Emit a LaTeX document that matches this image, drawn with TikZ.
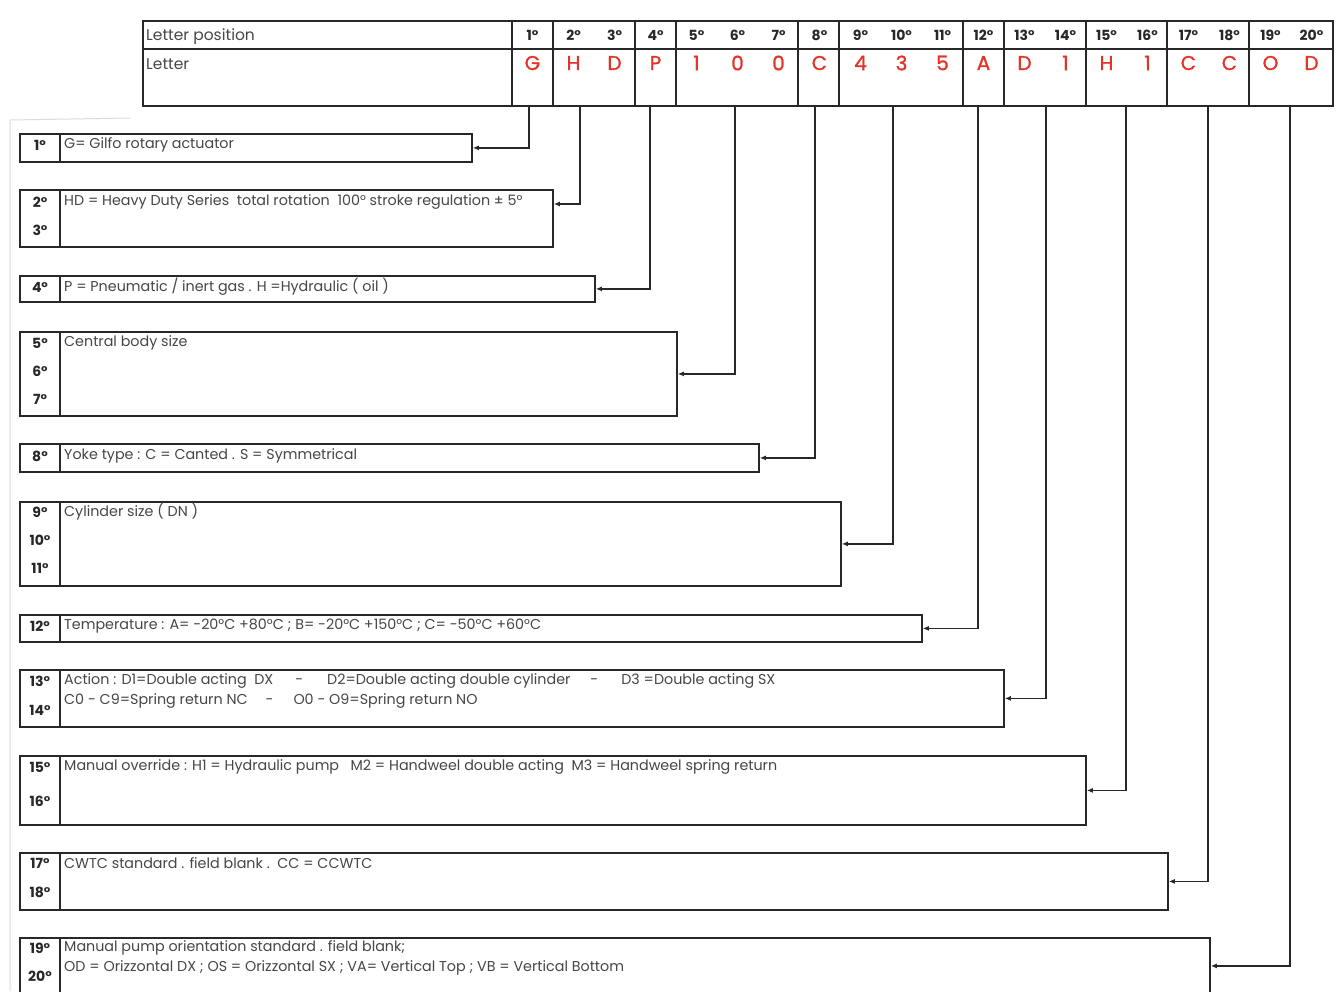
\documentclass[tikz,border=0pt]{standalone}
\usepackage{fontspec}
\setmainfont{Poppins}
\newfontfamily\letfont[FakeBold=1.2]{Poppins}
\usetikzlibrary{calc,arrows.meta}
\definecolor{ink}{RGB}{40,40,40}
\definecolor{txt}{RGB}{70,70,70}
\definecolor{letred}{RGB}{228,52,40}
\definecolor{faint}{RGB}{220,220,220}
\begin{document}
\begin{tikzpicture}[x=1pt,y=-1pt,
  box/.style={draw=ink, line width=1.8pt, anchor=north west, inner sep=0pt},
  sep/.style={draw=ink, line width=1.6pt},
  conn/.style={draw=ink, line width=1.5pt, -{Latex[length=6pt,width=5pt]}},
  num/.style={font=\fontsize{14}{15}\selectfont\bfseries, text=ink, inner sep=0pt},
  desc/.style={font=\fontsize{14.3}{15}\selectfont, text=txt, anchor=west, inner sep=0pt},
  hdesc/.style={font=\fontsize{15.5}{16}\selectfont, text=txt, anchor=west, inner sep=0pt},
  hnum/.style={font=\fontsize{14}{15}\selectfont\bfseries, text=ink, inner sep=0pt},
  let/.style={font=\letfont\fontsize{20}{22}\selectfont, text=letred, inner sep=0pt},
]
\clip (0,0) rectangle (1339,991);
\fill[white] (0,0) rectangle (1339,991);
% faint page border
\draw[faint, line width=1pt] (10,991) -- (10,120) -- (130,118);

% header table
\node[box, minimum width=1190pt, minimum height=85pt] (tab) at (142,20) {};
\draw[sep] (142,49) -- (1332,49);
\foreach \x in {512,553,635,676,798,839,963,1004,1086,1167,1249}
  \draw[sep] (\x,20) -- (\x,105);
\node[hdesc] (lp) at (146,37) {Letter position};
\node[hdesc] (ll) at (146,64) {Letter};
\foreach \i in {1,...,20}
  \node[hnum] (h\i) at ({532.5+41*(\i-1)},35) {\i°};
\foreach \l [count=\i] in {G,H,D,P,1,0,0,C,4,3,5,A,D,1,H,1,C,C,O,D}
  \node[let] (l\i) at ({532.5+41*(\i-1)},63) {\l};

% connector start points
\coordinate (p1) at (529,105);
\coordinate (p2) at (580,105);
\coordinate (p4) at (650,105);
\coordinate (p5) at (735,105);
\coordinate (p8) at (815,105);
\coordinate (p9) at (893,105);
\coordinate (p12) at (978,105);
\coordinate (p13) at (1046,105);
\coordinate (p15) at (1126,105);
\coordinate (p17) at (1208,105);
\coordinate (p19) at (1290,105);

% boxes
\node[box, minimum width=452pt, minimum height=28pt] (b1) at (19,133) {};
\node[box, minimum width=533pt, minimum height=57pt] (b2) at (19,189) {};
\node[box, minimum width=575pt, minimum height=26pt] (b4) at (19,275) {};
\node[box, minimum width=657pt, minimum height=84pt] (b5) at (19,331) {};
\node[box, minimum width=739pt, minimum height=28pt] (b8) at (19,443) {};
\node[box, minimum width=821pt, minimum height=84pt] (b9) at (19,501) {};
\node[box, minimum width=902pt, minimum height=27pt] (b12) at (19,614) {};
\node[box, minimum width=984pt, minimum height=57pt] (b13) at (19,669) {};
\node[box, minimum width=1066pt, minimum height=69pt] (b15) at (19,755) {};
\node[box, minimum width=1148pt, minimum height=57pt] (b17) at (19,852) {};
\node[box, minimum width=1190pt, minimum height=56pt] (b19) at (19,937) {};

% dividers
\foreach \b in {b1,b2,b4,b5,b8,b9,b12,b13,b15,b17,b19}
  \draw[sep] (\b.north west -| 60,0) -- (\b.south west -| 60,0);

% number labels
\node[num] at (40,145) {1°};
\node[num] at (40,202) {2°};
\node[num] at (40,230) {3°};
\node[num] at (40,287) {4°};
\node[num] at (40,343) {5°};
\node[num] at (40,371) {6°};
\node[num] at (40,399) {7°};
\node[num] at (40,456) {8°};
\node[num] at (40,512) {9°};
\node[num] at (40,540) {10°};
\node[num] at (40,568) {11°};
\node[num] at (40,626) {12°};
\node[num] at (40,681) {13°};
\node[num] at (40,710) {14°};
\node[num] at (40,767) {15°};
\node[num] at (40,801) {16°};
\node[num] at (40,863) {17°};
\node[num] at (40,892) {18°};
\node[num] at (40,948) {19°};
\node[num] at (40,976) {20°};

% descriptions
\node[desc] at (64,145) {G= Gilfo rotary actuator};
\node[desc] at (64,202) {HD = Heavy Duty Series\ \ total rotation\ \ 100° stroke regulation ± 5°};
\node[desc] at (64,287) {P = Pneumatic / inert gas . H =Hydraulic ( oil )};
\node[desc] at (64,343) {Central body size};
\node[desc] at (64,456) {Yoke type : C = Canted . S = Symmetrical};
\node[desc] at (64,512) {Cylinder size ( DN )};
\node[desc] at (64,626) {Temperature : A= -20°C +80°C ; B= -20°C +150°C ; C= -50°C +60°C};
\node[desc] at (64,681) {Action : D1=Double acting\ \ DX\hspace{22pt}-\hspace{24pt}D2=Double acting double cylinder\hspace{20pt}-\hspace{23pt}D3 =Double acting SX};
\node[desc] at (64,701) {C0 - C9=Spring return NC\hspace{18pt}-\hspace{20pt}O0 - O9=Spring return NO};
\node[desc] at (64,767) {Manual override : H1 = Hydraulic pump\ \ \ M2 = Handweel double acting\ \ M3 = Handweel spring return};
\node[desc] at (64,863) {CWTC standard . field blank .\ \ CC = CCWTC};
\node[desc] at (64,948) {Manual pump orientation standard . field blank;};
\node[desc] at (64,968) {OD = Orizzontal DX ; OS = Orizzontal SX ; VA= Vertical Top ; VB = Vertical Bottom};

% connectors
\draw[conn] (p1) |- (b1.east);
\draw[conn] (p2) |- ($(b2.north east)+(0,15)$);
\draw[conn] (p4) |- (b4.east);
\draw[conn] (p5) |- (b5.east);
\draw[conn] (p8) |- (b8.east);
\draw[conn] (p9) |- (b9.east);
\draw[conn] (p12) |- (b12.east);
\draw[conn] (p13) |- (b13.east);
\draw[conn] (p15) |- (b15.east);
\draw[conn] (p17) |- (b17.east);
\draw[conn] (p19) |- (b19.east);
\end{tikzpicture}
\end{document}
